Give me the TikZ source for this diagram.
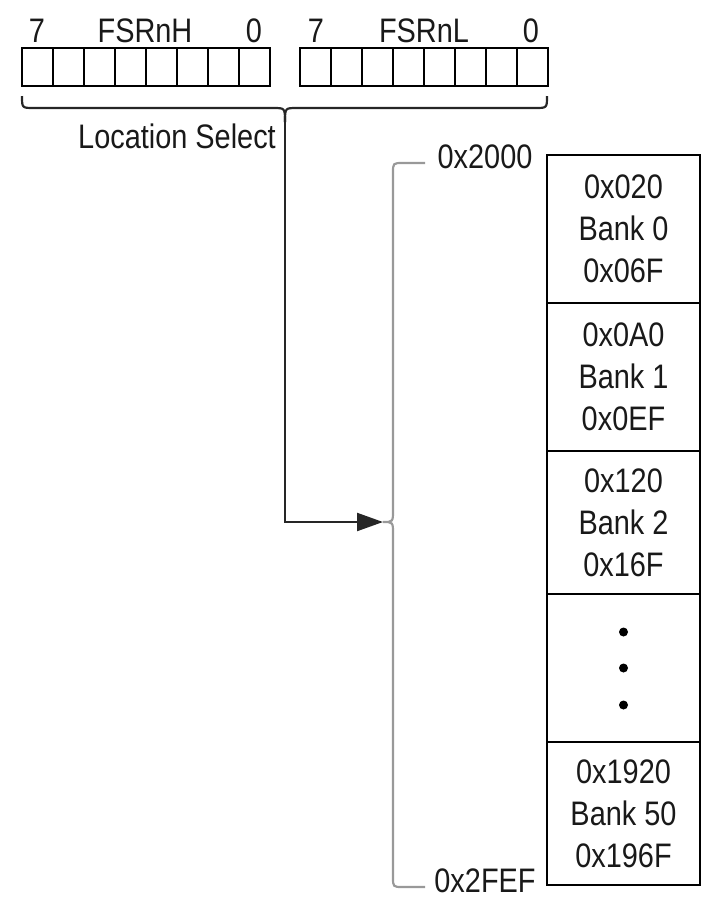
\documentclass[tikz,border=0pt]{standalone}
\usepackage{fontspec}
\setmainfont{Liberation Sans}[FakeStretch=0.85]
\usetikzlibrary{arrows.meta}
\begin{document}
\begin{tikzpicture}[x=1pt,y=-1pt,
  lbl/.style={font=\fontsize{34}{43}\selectfont, inner sep=0pt, anchor=base, text=black!90},
  regcell/.style={draw=black, line width=2.4pt, minimum width=31pt, minimum height=38pt, inner sep=0pt},
  bank/.style={draw=black, line width=2.4pt, minimum width=153pt, inner sep=0pt, align=center,
    font=\fontsize{34}{42}\selectfont, text=black!90},
  bbrace/.style={draw=black!85, line width=2.2pt},
  gbrace/.style={draw=black!40, line width=2.2pt}]
\useasboundingbox (0,0) rectangle (703,898);
% register cells
\foreach \i in {0,...,7} {
  \node[regcell] (h\i) at ({22+15.5+31*\i},67) {};
  \node[regcell] (l\i) at ({300+15.5+31*\i},67) {};
}
% top labels
\node[lbl] (h7lab) at (37,42) {7};
\node[lbl] (hname) at (145,42) {FSRnH};
\node[lbl] (h0lab) at (254,42) {0};
\node[lbl] (l7lab) at (316,42) {7};
\node[lbl] (lname) at (424,42) {FSRnL};
\node[lbl] (l0lab) at (531,42) {0};
% location select
\node[lbl] (loc) at (177,148) {Location Select};
% black brace
\coordinate (bt) at (285,122);
\coordinate (gt) at (383,522);
\path[bbrace] (22,96) .. controls (22,108) .. (34,108) -- (273,108) .. controls (285,108) .. (bt);
\path[bbrace] (547,96) .. controls (547,108) .. (535,108) -- (297,108) .. controls (285,108) .. (bt);
\draw[bbrace, -{Triangle[length=26pt,width=18pt]}] (bt) |- (gt);
% gray brace
\path[gbrace] (425,163) -- (403,163) .. controls (393,163) .. (393,173) -- (393,510)
  .. controls (393,522) .. (gt) .. controls (393,522) .. (393,534) -- (393,877)
  .. controls (393,887) .. (403,887) -- (425,887);
\node[lbl] (a2000) at (485,168) {0x2000};
\node[lbl] (a2fef) at (485,892) {0x2FEF};
% memory banks
\node[bank, minimum height=148pt] (b0) at (623.5,229) {0x020\\Bank 0\\0x06F};
\node[bank, minimum height=148pt] (b1) at (623.5,377) {0x0A0\\Bank 1\\0x0EF};
\node[bank, minimum height=143pt] (b2) at (623.5,522.5) {0x120\\Bank 2\\0x16F};
\node[bank, minimum height=148pt] (bd) at (623.5,668) {};
\node[bank, minimum height=143pt] (b50) at (623.5,813.5) {0x1920\\Bank 50\\0x196F};
\foreach \y/\n in {632/d1,668/d2,705/d3}
  \fill[black] (623.5,\y) circle (4.5pt) coordinate (\n);
\end{tikzpicture}
\end{document}
